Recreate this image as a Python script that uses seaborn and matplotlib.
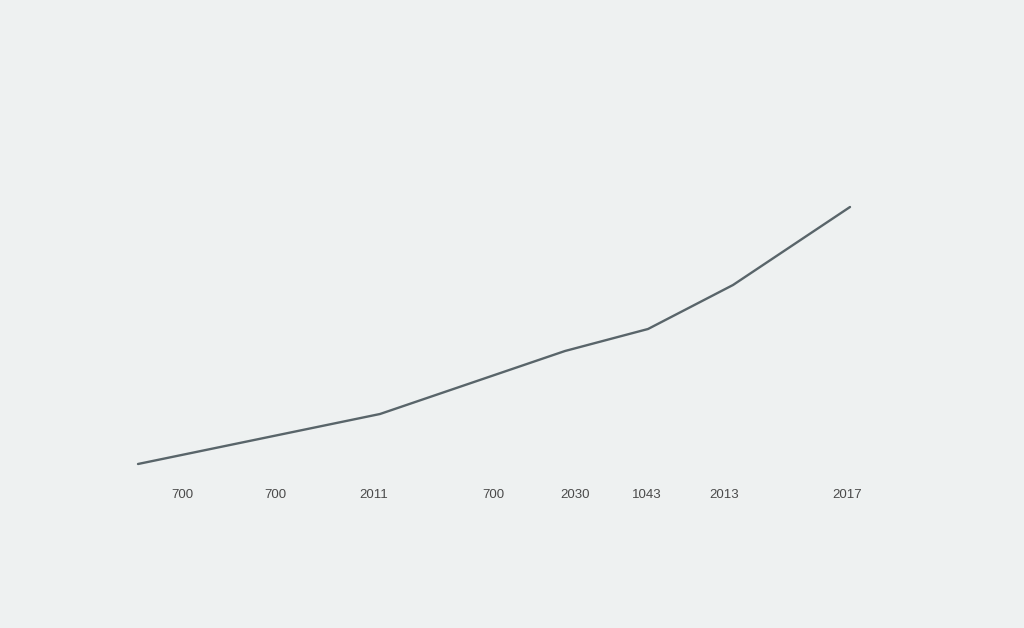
import matplotlib
matplotlib.use("Agg")
import matplotlib.pyplot as plt
import seaborn as sns
import pandas as pd

# Data
line_x = [138, 380, 565, 648, 733, 850]
line_y = [21, 71, 134, 156, 200, 278]
tick_pos = [182, 275, 374, 493, 575, 647, 724, 847]
tick_labels = ["700", "700", "2011", "700", "2030", "1043", "2013", "2017"]

df = pd.DataFrame({"x": line_x, "y": line_y})

sns.set_theme(style="white")
plt.rcParams["font.family"] = ["Liberation Sans", "DejaVu Sans"]
bg = "#eef1f1"
fig = plt.figure(figsize=(10.24, 6.28), dpi=100, facecolor=bg)
ax = fig.add_axes([0, (628 - 485) / 628, 1, 485 / 628])
ax.set_facecolor(bg)
sns.lineplot(data=df, x="x", y="y", ax=ax, color="#59656a", linewidth=1.7)
ax.set_xlim(0, 1024)
ax.set_ylim(0, 485)
ax.set_xticks(tick_pos)
ax.set_xticklabels(tick_labels, fontsize=9.5, color="#4a4a4a")
ax.tick_params(axis="x", length=0, pad=3)
ax.set_yticks([])
ax.set_xlabel("")
ax.set_ylabel("")
for s in ax.spines.values():
    s.set_visible(False)
fig.savefig("out.png", dpi=100, facecolor=bg)
